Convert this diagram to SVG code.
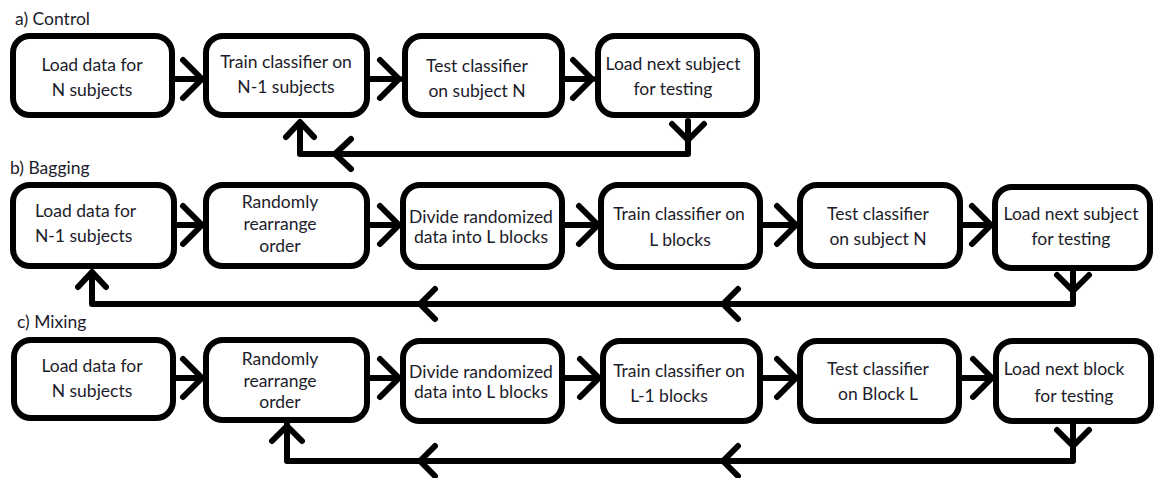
<svg xmlns="http://www.w3.org/2000/svg" width="1154" height="478" viewBox="0 0 1154 478">
<style>
.box{fill:#fff;stroke:#000;stroke-width:6}
.ln{fill:none;stroke:#000;stroke-width:6;stroke-linecap:round;stroke-linejoin:round}
.t{font-family:Lato,"Liberation Sans",sans-serif;font-size:17.5px;fill:#1c1c2a;text-anchor:middle}
.lab{font-family:Lato,"Liberation Sans",sans-serif;font-size:17.5px;fill:#1c1c2a}
</style>
<rect width="1154" height="478" fill="#fff"/>
<g id="labels">
<text class="lab" x="15" y="25">a) Control</text>
<text class="lab" x="10" y="174">b) Bagging</text>
<text class="lab" x="17" y="328">c) Mixing</text>
</g>
<g id="connectors">
<!-- row a -->
<path class="ln" d="M175,79H201M183,60L202,79L183,98"/>
<path class="ln" d="M370,79H400M380,60L399,79L380,98"/>
<path class="ln" d="M565,79H593M573,60L592,79L573,98"/>
<path class="ln" d="M688,121V154H300V123M672,124L688,140L704,124M286,137L300,122L314,137M351,139L335,154L351,169"/>
<!-- row b -->
<path class="ln" d="M177,225H201M183,206L202,225L183,244"/>
<path class="ln" d="M370,225H398M380,206L399,225L380,244"/>
<path class="ln" d="M565,225H596M579,206L598,225L579,244"/>
<path class="ln" d="M763,225H795M777,206L796,225L777,244"/>
<path class="ln" d="M963,225H990M972,206L991,225L972,244"/>
<path class="ln" d="M1073,272V304H92V272M1057,275L1073,291L1089,275M78,287L92,272L106,287M435,289L420,304L435,319M738,289L723,304L738,319"/>
<!-- row c -->
<path class="ln" d="M175,378H201M183,359L202,378L183,397"/>
<path class="ln" d="M370,378H398M380,359L399,378L380,397"/>
<path class="ln" d="M565,378H598M580,359L599,378L580,397"/>
<path class="ln" d="M763,378H795M777,359L796,378L777,397"/>
<path class="ln" d="M962,378H991M973,359L992,378L973,397"/>
<path class="ln" d="M1073,424V461H287V424M1057,430L1073,446L1089,430M272,441L287,426L302,441M435,446L420,461L435,476M738,446L723,461L738,476"/>
</g>
<g id="a1"><rect class="box" x="13" y="36" width="159" height="79" rx="17"/><text class="t" x="92" y="71">Load data for</text><text class="t" x="92" y="96">N subjects</text></g>
<g id="a2"><rect class="box" x="206" y="36" width="161" height="79" rx="17"/><text class="t" x="286" y="68">Train classifier on</text><text class="t" x="286" y="93">N-1 subjects</text></g>
<g id="a3"><rect class="box" x="405" y="36" width="157" height="79" rx="17"/><text class="t" x="477" y="72">Test classifier</text><text class="t" x="477" y="97">on subject N</text></g>
<g id="a4"><rect class="box" x="598" y="36" width="159" height="79" rx="17"/><text class="t" x="673" y="70">Load next subject</text><text class="t" x="673" y="95">for testing</text></g>

<g id="b1"><rect class="box" x="13" y="185" width="161" height="81" rx="17"/><text class="lab" x="35" y="217">Load data for</text><text class="lab" x="35" y="242">N-1 subjects</text></g>
<g id="b2"><rect class="box" x="206" y="185" width="161" height="81" rx="17"/><text class="t" x="280" y="208">Randomly</text><text class="t" x="280" y="230">rearrange</text><text class="t" x="280" y="252">order</text></g>
<g id="b3"><rect class="box" x="403" y="185" width="159" height="82" rx="17"/><text class="t" x="481" y="223">Divide randomized</text><text class="t" x="481" y="243">data into L blocks</text></g>
<g id="b4"><rect class="box" x="601" y="185" width="159" height="82" rx="17"/><text class="t" x="679" y="220">Train classifier on</text><text class="t" x="680" y="246">L blocks</text></g>
<g id="b5"><rect class="box" x="800" y="185" width="160" height="81" rx="17"/><text class="t" x="878" y="220">Test classifier</text><text class="t" x="878" y="245">on subject N</text></g>
<g id="b6"><rect class="box" x="995" y="187" width="155" height="81" rx="17"/><text class="t" x="1071" y="220">Load next subject</text><text class="t" x="1071" y="245">for testing</text></g>

<g id="c1"><rect class="box" x="14" y="340" width="159" height="78" rx="17"/><text class="t" x="92" y="372">Load data for</text><text class="t" x="92" y="397">N subjects</text></g>
<g id="c2"><rect class="box" x="206" y="340" width="161" height="80" rx="17"/><text class="t" x="280" y="365">Randomly</text><text class="t" x="280" y="387">rearrange</text><text class="t" x="280" y="408">order</text></g>
<g id="c3"><rect class="box" x="403" y="341" width="159" height="80" rx="17"/><text class="t" x="481" y="378">Divide randomized</text><text class="t" x="481" y="398">data into L blocks</text></g>
<g id="c4"><rect class="box" x="603" y="341" width="157" height="80" rx="17"/><text class="t" x="679" y="377">Train classifier on</text><text class="t" x="669" y="402">L-1 blocks</text></g>
<g id="c5"><rect class="box" x="800" y="341" width="159" height="80" rx="17"/><text class="t" x="878" y="375">Test classifier</text><text class="t" x="878" y="400">on Block L</text></g>
<g id="c6"><rect class="box" x="996" y="341" width="155" height="80" rx="17"/><text class="t" x="1064" y="375">Load next block</text><text class="t" x="1074" y="402">for testing</text></g>
</svg>
